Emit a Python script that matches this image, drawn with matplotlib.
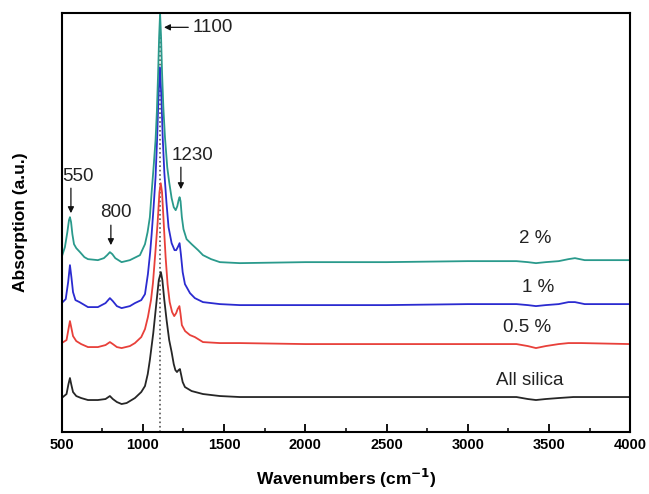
"""FTIR spectra of the silica samples"""
import matplotlib
matplotlib.use("Agg")
import matplotlib.pyplot as plt

plt.rcParams['font.family'] = ['Liberation Sans', 'DejaVu Sans']

# spectra, absorption in arbitrary units (stacked)
wn_2 = [500, 520, 535, 545, 551, 558, 566, 576, 590, 613, 640, 662, 723, 760, 780,
        797, 812, 830, 869, 920, 982, 1013, 1029, 1043, 1054, 1066, 1078, 1086, 1094,
        1100, 1106, 1112, 1118, 1126, 1136, 1150, 1162, 1177, 1190, 1202, 1212, 1220,
        1226, 1232, 1240, 1250, 1269, 1300, 1340, 1370, 1420, 1474, 1597, 2000, 2500,
        3000, 3300, 3370, 3420, 3480, 3560, 3620, 3660, 3720, 4000]
abs_2 = [175, 185, 200, 212, 215, 210, 198, 188, 184, 180, 175, 173, 172, 174, 177,
         180, 178, 174, 170, 172, 177, 188, 200, 215, 240, 265, 292, 320, 360,
         395, 419, 395, 360, 325, 295, 265, 250, 234, 225, 222, 226, 232,
         235, 231, 215, 203, 193, 188, 182, 177, 173, 170, 169, 170, 170,
         171, 171, 170, 169, 170, 171, 173, 174, 172, 172]

wn_1 = [500, 525, 540, 551, 560, 570, 585, 610, 662, 723, 770, 797, 815, 840, 869,
        920, 951, 990, 1013, 1031, 1045, 1054, 1066, 1078, 1088, 1096, 1105, 1114,
        1122, 1132, 1145, 1158, 1177, 1195, 1205, 1215, 1226, 1234, 1245, 1259, 1290,
        1320, 1370, 1474, 1597, 2000, 2500, 3000, 3300, 3370, 3420, 3480, 3560, 3620,
        3660, 3720, 4000]
abs_1 = [129, 133, 150, 167, 155, 140, 132, 130, 125, 125, 129, 134, 131, 126, 124,
         126, 129, 132, 138, 158, 180, 198, 225, 255, 295, 335, 365, 335,
         295, 260, 230, 205, 189, 182, 182, 185, 189, 178, 160, 148, 139,
         134, 130, 128, 127, 127, 127, 128, 128, 127, 126, 127, 128, 130,
         130, 128, 128]

wn_05 = [500, 530, 542, 551, 560, 570, 590, 620, 662, 723, 770, 797, 815, 840, 869,
         920, 951, 990, 1013, 1031, 1050, 1062, 1078, 1091, 1102, 1110, 1118, 1128,
         1140, 1152, 1165, 1180, 1193, 1205, 1214, 1225, 1232, 1240, 1260, 1290, 1320,
         1370, 1474, 1597, 2000, 2500, 3000, 3300, 3370, 3420, 3480, 3560, 3620, 3700,
         4000]
abs_05 = [89, 92, 103, 111, 104, 96, 91, 88, 85, 85, 87, 90, 88, 85, 84,
          86, 89, 95, 103, 115, 132, 149, 182, 210, 240, 249, 240, 210,
          175, 148, 130, 120, 116, 119, 123, 126, 118, 107, 101, 97, 95,
          90, 89, 89, 88, 88, 88, 88, 86, 84, 86, 88, 89, 89,
          88]

wn_0 = [500, 530, 542, 551, 560, 570, 590, 620, 662, 723, 770, 797, 815, 840, 869,
        900, 951, 990, 1013, 1030, 1043, 1064, 1085, 1098, 1111, 1120, 1132, 1146,
        1162, 1177, 1190, 1200, 1210, 1220, 1228, 1236, 1245, 1259, 1300, 1370, 1474,
        1597, 2000, 2500, 3000, 3300, 3370, 3420, 3480, 3560, 3650, 4000]
abs_0 = [34, 38, 48, 54, 47, 40, 36, 34, 32, 32, 33, 36, 33, 30, 28,
         29, 34, 40, 46, 58, 72, 99, 132, 152, 160, 152, 132, 112,
         92, 80, 68, 62, 60, 62, 63, 57, 50, 45, 41, 38, 36,
         35, 35, 35, 35, 35, 33, 32, 33, 34, 35, 35]

series = [
    (wn_0, abs_0, '#262626', 'All silica'),
    (wn_05, abs_05, '#e8403a', '0.5 %'),
    (wn_1, abs_1, '#2b2bd0', '1 %'),
    (wn_2, abs_2, '#2a9a8c', '2 %'),
]
label_pos = [(3383, 52), (3364, 105), (3432, 145), (3413, 194)]

# peak markers: (text, text position, arrow start, arrow end)
peaks = [
    ('550', (600, 256), (557, 244), (557, 219)),
    ('800', (835, 220), (803, 207), (803, 187)),
    ('1230', (1303, 277), (1234, 265), (1234, 243)),
]

fig = plt.figure(figsize=(6.49, 4.94), dpi=100)
axis = fig.add_axes([0.095, 0.1255, 0.876, 0.8475])

axis.axvline(1105, color='#555555', linestyle=':', linewidth=1.2, zorder=1)
for wn, ab, color, name in series:
    axis.plot(wn, ab, color=color, linewidth=1.3, zorder=2)
for (x, y), (_, _, _, name) in zip(label_pos, series):
    axis.text(x, y, name, ha='center', va='center', fontsize=13.5, color='#222222')

for text, pos, start, end in peaks:
    axis.text(pos[0], pos[1], text, ha='center', va='center', fontsize=13.5,
              color='#222222')
    axis.annotate('', xy=end, xytext=start,
                  arrowprops=dict(arrowstyle='-|>', color='#111111', lw=0.9,
                                  mutation_scale=9, shrinkA=0, shrinkB=0))
axis.annotate('1100', xy=(1130, 405), xytext=(1305, 405), ha='left', va='center',
              fontsize=13.5, color='#222222',
              arrowprops=dict(arrowstyle='-|>', color='#111111', lw=0.9,
                              mutation_scale=9, shrinkA=1, shrinkB=0))

axis.set_xlim(500, 4000)
axis.set_ylim(0, 419)
axis.set_xticks(range(500, 4001, 500))
axis.set_xticks(range(750, 4000, 500), minor=True)
axis.set_yticks([])
axis.tick_params(axis='x', which='major', direction='in', length=6, width=1.3,
                 labelsize=10.5, pad=4)
axis.tick_params(axis='x', which='minor', direction='in', length=3, width=1.1)
for label in axis.get_xticklabels():
    label.set_fontweight('bold')
for spine in axis.spines.values():
    spine.set_linewidth(1.5)

axis.set_xlabel('Wavenumbers (cm$^{\\mathbf{-1}}$)', fontsize=12.5, fontweight='bold',
                labelpad=11)
axis.set_ylabel('Absorption (a.u.)', fontsize=12.5, fontweight='bold', labelpad=24)

fig.savefig('out.png')
